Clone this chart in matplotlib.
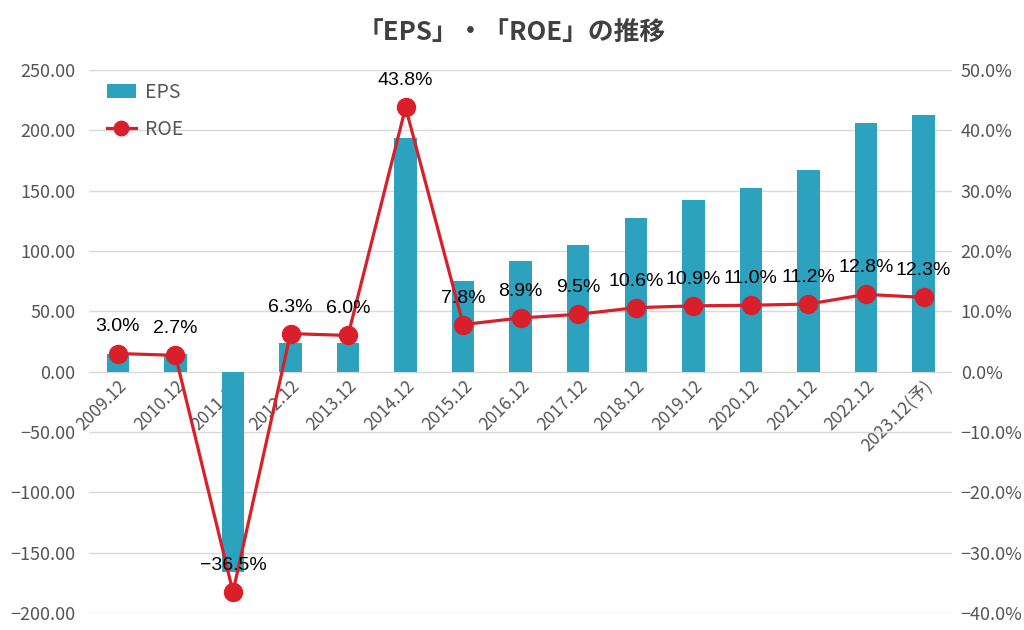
import matplotlib.pyplot as plt
import numpy as np

plt.rcParams['font.family'] = ['Noto Sans CJK JP', 'DejaVu Sans']

# data
years = ['2009.12', '2010.12', '2011.12', '2012.12', '2013.12', '2014.12', '2015.12',
         '2016.12', '2017.12', '2018.12', '2019.12', '2020.12', '2021.12', '2022.12',
         '2023.12(予)']
eps = [15, 15, -166, 24, 24, 194, 75, 92, 105, 127, 142, 152, 167, 206, 213]
roe = [3.0, 2.7, -36.5, 6.3, 6.0, 43.8, 7.8, 8.9, 9.5, 10.6, 10.9, 11.0, 11.2, 12.8, 12.3]

bar_color = '#2ca2bf'
line_color = '#d9202a'
tick_color = '#555555'

fig = plt.figure(figsize=(10.24, 6.3), dpi=100)
ax = fig.add_axes([0.087, 0.027, 0.843, 0.862])
ax2 = ax.twinx()

x = np.arange(len(years))
ax.bar(x, eps, width=0.39, color=bar_color, label='EPS', zorder=2)
ax2.plot(x, roe, color=line_color, lw=2.3, marker='o', markersize=13, label='ROE', zorder=3)

# ROE value labels above each point
for xi, v in zip(x, roe):
    ax2.annotate(f'{v:.1f}%'.replace('-', '−'), (xi, v), xytext=(0, 13), textcoords='offset points',
                 ha='center', va='bottom', fontsize=14, color='black', fontweight='medium',
                 family=['Liberation Sans', 'DejaVu Sans'])

ax.set_ylim(-200, 250)
ax.set_yticks(np.arange(-200, 251, 50))
ax.set_yticklabels([f'{v:.2f}'.replace('-', '−') for v in np.arange(-200, 251, 50)])
ax2.set_ylim(-40, 50)
ax2.set_yticks(np.arange(-40, 51, 10))
ax2.set_yticklabels([f'{v:.1f}%'.replace('-', '−') for v in np.arange(-40, 51, 10)])
ax.set_xlim(-0.5, len(years) - 0.5)

ax.grid(axis='y', color='#d9d9d9', lw=1, zorder=0)
ax.set_axisbelow(True)
for a in (ax, ax2):
    for s in a.spines.values():
        s.set_visible(False)
    a.tick_params(length=0, labelsize=13, colors=tick_color)
ax.tick_params(axis='y', pad=10)
ax2.tick_params(axis='y', pad=6)

# category labels sit on the zero line
ax.spines['bottom'].set_position(('data', 0))
ax.set_xticks(x)
ax.set_xticklabels(years, rotation=45, ha='right', rotation_mode='anchor', fontsize=12.5)
ax.tick_params(axis='x', pad=4)

h1, l1 = ax.get_legend_handles_labels()
h2, l2 = ax2.get_legend_handles_labels()
leg = ax.legend(h1 + h2, l1 + l2, loc='upper left', bbox_to_anchor=(0.0, 1.01),
                frameon=False, fontsize=14, handlelength=1.5, labelspacing=0.8,
                markerscale=0.8, handletextpad=0.5)
for t in leg.get_texts():
    t.set_color(tick_color)

fig.text(0.5, 0.947, '「EPS」・「ROE」の推移', ha='center', va='center',
         fontsize=18.5, fontweight='bold', color='#404040')

fig.savefig('out.png', dpi=100)
